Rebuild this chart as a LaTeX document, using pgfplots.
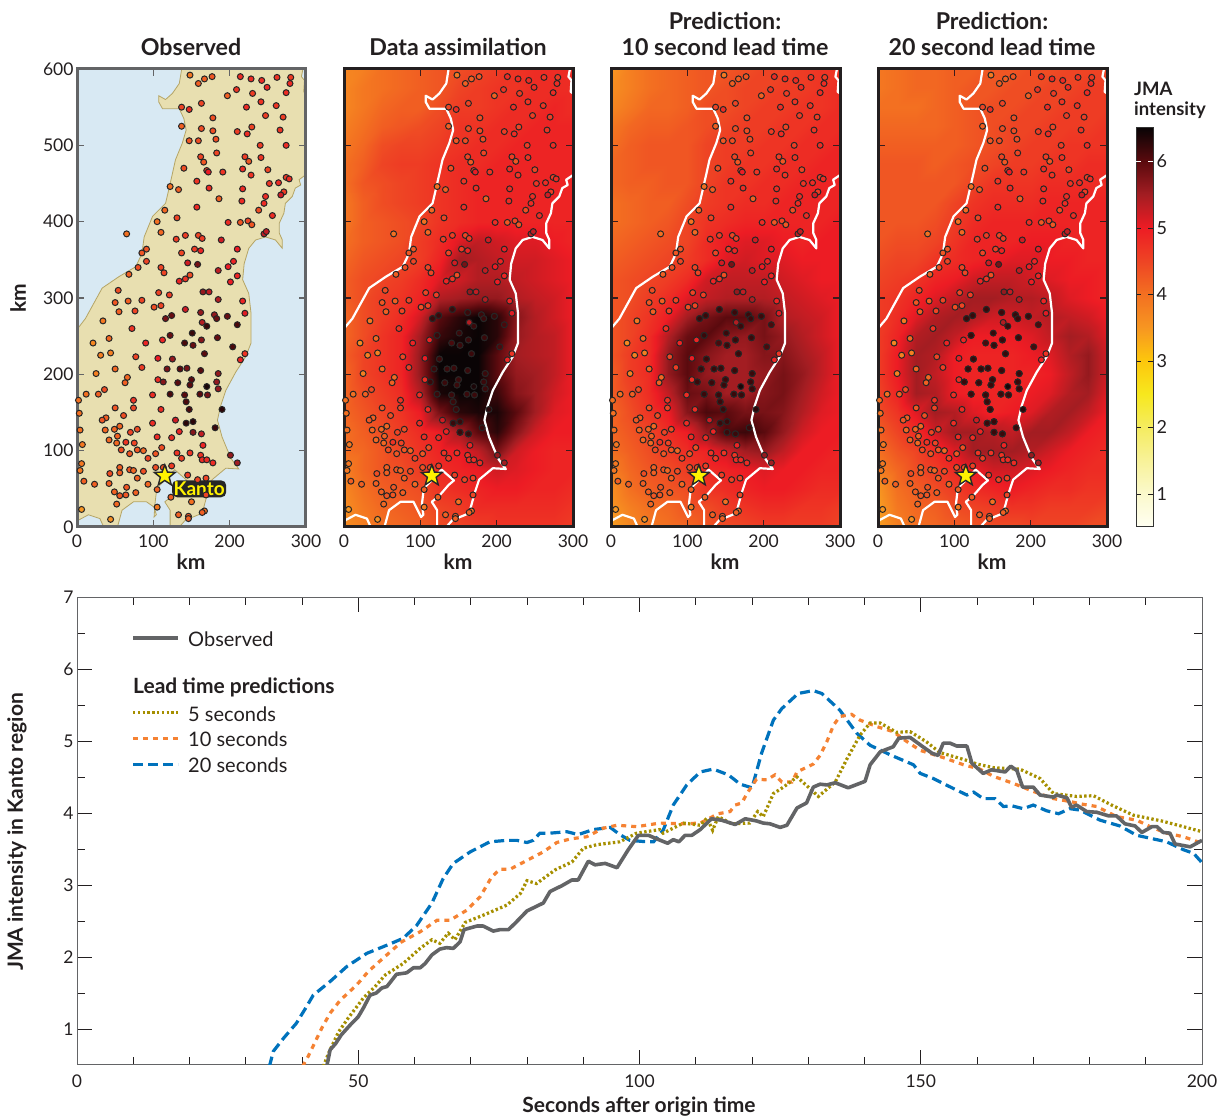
\documentclass[border=0pt]{standalone}
\usepackage{fontspec}
\usepackage{pgfplots}
\usepackage{pgfplotstable}
\pgfplotsset{compat=1.18}
\setmainfont{Lato}
\definecolor{ink}{HTML}{231F20}
\definecolor{frameg}{HTML}{636466}
\definecolor{sea}{HTML}{D8E9F3}
\definecolor{land}{HTML}{E8DFB0}
\definecolor{coastc}{HTML}{B5A566}
\definecolor{obsc}{HTML}{636466}
\definecolor{olivec}{HTML}{A68F00}
\definecolor{orangec}{HTML}{F58233}
\definecolor{bluec}{HTML}{0072BC}
\pgfplotsset{colormap={jma}{rgb255=(255,255,242) rgb255=(251,249,204) rgb255=(248,242,153) rgb255=(245,236,96) rgb255=(247,232,30) rgb255=(253,199,12) rgb255=(247,150,33) rgb255=(243,112,33) rgb255=(238,68,36) rgb255=(237,28,36) rgb255=(163,29,34) rgb255=(90,10,14) rgb255=(10,4,5)}}
\pgfdeclareplotmark{fstar}{%
 \pgfpathmoveto{\pgfqpointpolar{90}{\pgfplotmarksize}}%
 \pgfpathlineto{\pgfqpointpolar{126}{0.42\pgfplotmarksize}}%
 \pgfpathlineto{\pgfqpointpolar{162}{\pgfplotmarksize}}%
 \pgfpathlineto{\pgfqpointpolar{198}{0.42\pgfplotmarksize}}%
 \pgfpathlineto{\pgfqpointpolar{234}{\pgfplotmarksize}}%
 \pgfpathlineto{\pgfqpointpolar{270}{0.42\pgfplotmarksize}}%
 \pgfpathlineto{\pgfqpointpolar{306}{\pgfplotmarksize}}%
 \pgfpathlineto{\pgfqpointpolar{342}{0.42\pgfplotmarksize}}%
 \pgfpathlineto{\pgfqpointpolar{18}{\pgfplotmarksize}}%
 \pgfpathlineto{\pgfqpointpolar{54}{0.42\pgfplotmarksize}}%
 \pgfpathclose\pgfusepathqfillstroke}
% ---- grid reader: one row of intensities per y, x = 0,25,...,300
\newtoks\gridtoks \newcount\gxc \newcount\gyc
\def\stopmark{;}
\def\scanval#1 {\def\tmp{#1}\ifx\tmp\stopmark\else
 \edef\next{\the\gridtoks (\the\gxc,\the\gyc) [#1] }\gridtoks\expandafter{\next}\advance\gxc by 25 \expandafter\scanval\fi}
\def\gridrow#1#2{\gxc=0 \gyc=#1 \scanval#2 ; }
\gridtoks={}
\gridrow{600}{3.7 3.8 4.0 4.1 4.2 4.3 4.4 4.5 4.6 4.7 4.8 4.8 4.8}
\gridrow{575}{3.7 3.9 4.0 4.1 4.2 4.3 4.5 4.6 4.7 4.7 4.8 4.8 4.8}
\gridrow{550}{3.7 3.9 4.1 4.2 4.2 4.4 4.6 4.6 4.7 4.8 4.8 4.9 4.8}
\gridrow{525}{3.8 4.0 4.2 4.3 4.4 4.5 4.7 4.7 4.8 4.8 4.9 4.9 4.9}
\gridrow{500}{3.9 4.1 4.4 4.5 4.5 4.6 4.7 4.8 4.8 4.9 4.9 4.9 4.9}
\gridrow{475}{4.0 4.2 4.5 4.6 4.6 4.7 4.8 4.8 4.9 4.9 4.9 4.9 4.9}
\gridrow{450}{4.0 4.3 4.4 4.5 4.6 4.7 4.8 4.9 4.9 4.9 4.9 4.9 4.9}
\gridrow{425}{3.9 4.2 4.4 4.5 4.6 4.7 4.8 4.9 4.9 4.9 4.9 4.9 4.9}
\gridrow{400}{3.9 4.2 4.3 4.4 4.5 4.7 4.8 4.9 4.9 4.9 4.9 4.9 4.9}
\gridrow{375}{4.0 4.2 4.3 4.4 4.6 4.8 5.1 5.3 5.2 5.1 5.1 5.0 4.9}
\gridrow{350}{4.1 4.3 4.4 4.5 4.6 4.9 5.5 5.4 5.3 5.2 5.2 5.1 5.0}
\gridrow{325}{4.2 4.4 4.5 4.6 4.8 5.1 5.2 5.4 5.4 5.3 5.2 5.1 5.0}
\gridrow{300}{4.2 4.4 4.6 4.7 4.9 5.4 5.5 5.6 5.6 5.4 5.3 5.2 5.0}
\gridrow{275}{4.1 4.4 4.6 4.8 5.2 6.0 6.3 6.5 6.3 5.7 5.4 5.2 5.0}
\gridrow{250}{4.1 4.4 4.7 4.9 5.5 6.2 6.4 6.5 6.3 5.6 5.4 5.3 5.0}
\gridrow{225}{4.2 4.5 4.7 4.9 5.6 6.5 6.5 6.5 6.0 5.5 5.4 5.3 5.0}
\gridrow{200}{4.1 4.5 4.7 4.9 5.6 6.5 6.5 6.5 6.0 5.6 5.5 5.3 5.0}
\gridrow{175}{4.1 4.4 4.6 4.8 5.4 6.4 6.5 6.5 6.2 5.7 5.5 5.2 5.0}
\gridrow{150}{4.1 4.3 4.5 4.7 5.0 5.8 6.3 6.4 6.4 6.0 5.5 5.1 5.0}
\gridrow{125}{4.0 4.2 4.4 4.6 4.8 5.0 5.5 6.0 6.3 5.7 5.2 5.0 5.0}
\gridrow{100}{4.0 4.1 4.3 4.5 4.7 4.9 5.0 5.3 5.8 5.2 5.0 4.9 4.9}
\gridrow{75}{3.8 4.1 4.3 4.4 4.6 4.8 4.9 5.0 5.2 5.1 5.0 4.9 4.9}
\gridrow{50}{3.7 4.0 4.2 4.3 4.4 4.7 4.8 4.9 5.0 5.0 4.9 4.9 4.8}
\gridrow{25}{3.6 3.9 4.1 4.2 4.3 4.5 4.6 4.8 4.8 4.8 4.8 4.8 4.7}
\gridrow{0}{3.6 3.8 4.0 4.1 4.2 4.4 4.5 4.6 4.7 4.7 4.7 4.7 4.6}
\edef\gridA{\the\gridtoks}
\gridtoks={}
\gridrow{600}{3.5 3.8 4.0 4.1 4.2 4.3 4.3 4.4 4.5 4.5 4.6 4.7 4.7}
\gridrow{575}{3.6 3.8 4.0 4.1 4.2 4.3 4.4 4.5 4.5 4.6 4.6 4.7 4.8}
\gridrow{550}{3.7 3.9 4.1 4.1 4.2 4.4 4.4 4.5 4.6 4.6 4.7 4.7 4.8}
\gridrow{525}{3.9 4.1 4.2 4.2 4.3 4.4 4.5 4.6 4.6 4.7 4.7 4.8 4.8}
\gridrow{500}{4.0 4.2 4.3 4.3 4.3 4.5 4.6 4.6 4.7 4.7 4.8 4.8 4.9}
\gridrow{475}{4.1 4.2 4.3 4.3 4.3 4.5 4.6 4.7 4.7 4.8 4.8 4.9 4.9}
\gridrow{450}{4.1 4.2 4.2 4.3 4.3 4.5 4.7 4.7 4.8 4.8 4.9 4.9 4.9}
\gridrow{425}{4.0 4.1 4.2 4.2 4.4 4.6 4.7 4.8 4.8 4.9 4.9 4.9 4.9}
\gridrow{400}{4.0 4.1 4.2 4.3 4.5 4.7 4.8 4.9 4.9 4.9 4.9 4.9 5.0}
\gridrow{375}{4.1 4.2 4.3 4.4 4.5 4.8 5.0 5.1 5.1 5.0 4.9 5.0 5.0}
\gridrow{350}{4.2 4.3 4.4 4.5 4.6 4.8 5.1 5.2 5.1 5.1 5.0 5.0 5.0}
\gridrow{325}{4.3 4.4 4.5 4.6 4.8 5.2 5.3 5.3 5.3 5.2 5.1 5.0 5.0}
\gridrow{300}{4.3 4.4 4.6 4.8 5.1 5.3 5.4 5.4 5.4 5.3 5.2 5.1 5.0}
\gridrow{275}{4.3 4.5 4.7 5.0 5.5 5.8 6.0 6.0 5.8 5.4 5.3 5.2 5.0}
\gridrow{250}{4.3 4.5 4.8 5.4 5.9 6.0 5.7 5.6 5.8 5.6 5.4 5.2 5.0}
\gridrow{225}{4.3 4.6 4.8 5.6 6.0 5.7 5.5 5.5 5.7 5.7 5.5 5.3 5.0}
\gridrow{200}{4.2 4.6 4.8 5.6 6.0 5.6 5.5 5.5 5.6 5.8 5.6 5.3 5.0}
\gridrow{175}{4.2 4.5 4.8 5.3 5.9 5.8 5.5 5.5 5.7 5.8 5.5 5.2 5.0}
\gridrow{150}{4.1 4.4 4.7 5.0 5.7 6.1 6.0 5.8 5.8 5.7 5.4 5.1 5.0}
\gridrow{125}{4.1 4.3 4.5 4.8 5.0 5.6 6.1 6.2 6.0 5.6 5.2 5.0 5.0}
\gridrow{100}{4.0 4.2 4.4 4.6 4.8 4.9 5.2 5.5 5.6 5.3 5.0 5.0 4.9}
\gridrow{75}{3.8 4.1 4.3 4.4 4.6 4.8 4.9 5.0 5.1 5.0 5.0 4.9 4.9}
\gridrow{50}{3.6 4.0 4.2 4.3 4.4 4.7 4.8 4.9 5.0 5.0 4.9 4.8 4.8}
\gridrow{25}{3.5 3.8 4.0 4.1 4.3 4.4 4.6 4.7 4.8 4.8 4.7 4.7 4.6}
\gridrow{0}{3.4 3.7 3.9 4.0 4.1 4.3 4.4 4.5 4.6 4.6 4.6 4.6 4.5}
\edef\gridB{\the\gridtoks}
\gridtoks={}
\gridrow{600}{3.9 4.0 4.1 4.1 4.2 4.2 4.3 4.3 4.4 4.4 4.5 4.5 4.5}
\gridrow{575}{3.9 4.0 4.1 4.1 4.2 4.3 4.3 4.4 4.4 4.5 4.5 4.6 4.6}
\gridrow{550}{4.0 4.0 4.0 4.1 4.2 4.3 4.4 4.4 4.5 4.5 4.6 4.6 4.6}
\gridrow{525}{4.1 4.1 4.1 4.1 4.2 4.3 4.4 4.5 4.5 4.6 4.6 4.6 4.7}
\gridrow{500}{4.2 4.2 4.2 4.2 4.2 4.3 4.4 4.5 4.6 4.6 4.7 4.7 4.7}
\gridrow{475}{4.3 4.3 4.3 4.2 4.3 4.4 4.5 4.6 4.6 4.7 4.7 4.8 4.8}
\gridrow{450}{4.3 4.3 4.3 4.3 4.3 4.5 4.7 4.7 4.7 4.8 4.8 4.8 4.8}
\gridrow{425}{4.3 4.3 4.3 4.3 4.5 4.7 4.8 4.8 4.8 4.9 4.9 4.9 4.9}
\gridrow{400}{4.3 4.3 4.3 4.4 4.6 4.8 4.9 4.9 4.9 4.9 4.9 4.9 4.9}
\gridrow{375}{4.3 4.4 4.4 4.5 4.7 4.9 4.9 4.9 5.0 5.0 4.9 4.9 4.9}
\gridrow{350}{4.4 4.5 4.5 4.7 4.8 4.9 5.0 5.1 5.1 5.0 5.0 4.9 4.9}
\gridrow{325}{4.5 4.6 4.7 4.9 5.0 5.2 5.3 5.3 5.2 5.1 5.0 5.0 4.9}
\gridrow{300}{4.6 4.7 4.9 5.1 5.3 5.5 5.5 5.4 5.4 5.3 5.1 5.0 4.9}
\gridrow{275}{4.6 4.8 5.1 5.4 5.5 5.4 5.2 5.2 5.3 5.4 5.3 5.2 5.0}
\gridrow{250}{4.6 4.9 5.4 5.5 5.3 5.0 5.0 5.0 5.1 5.3 5.5 5.4 5.1}
\gridrow{225}{4.6 5.0 5.5 5.4 5.0 4.9 4.9 4.9 5.0 5.1 5.4 5.6 5.2}
\gridrow{200}{4.6 5.0 5.5 5.3 5.0 4.9 4.9 4.9 4.9 5.0 5.3 5.6 5.2}
\gridrow{175}{4.5 4.9 5.5 5.4 5.0 4.9 4.9 4.9 5.0 5.1 5.4 5.5 5.1}
\gridrow{150}{4.4 4.7 5.1 5.5 5.4 5.1 4.9 5.0 5.1 5.4 5.5 5.3 5.0}
\gridrow{125}{4.2 4.5 4.8 5.2 5.5 5.5 5.4 5.3 5.5 5.5 5.3 5.0 4.9}
\gridrow{100}{4.0 4.3 4.5 4.8 5.1 5.5 5.5 5.5 5.4 5.2 5.0 4.9 4.8}
\gridrow{75}{3.8 4.1 4.4 4.6 4.8 5.0 5.2 5.2 5.1 5.0 4.9 4.8 4.8}
\gridrow{50}{3.5 4.0 4.2 4.4 4.6 4.8 4.9 5.0 4.9 4.8 4.8 4.7 4.7}
\gridrow{25}{3.4 3.9 4.1 4.2 4.4 4.5 4.6 4.7 4.7 4.6 4.6 4.6 4.5}
\gridrow{0}{3.4 3.8 4.0 4.1 4.2 4.3 4.4 4.4 4.5 4.5 4.5 4.4 4.4}
\edef\gridC{\the\gridtoks}
\def\plotgrid#1{\edef\tmp{\noexpand\addplot[surf,shader=interp,mesh/cols=13,point meta=explicit,forget plot] coordinates {#1};}\tmp}
% ---- stations
\pgfplotstableread{
x y v
148 592 3.9
159 581 4.2
167 587 4.2
177 590 4.3
214 590 4.8
228 587 4.8
242 585 4.8
262 589 4.7
280 589 4.6
279 581 4.8
249 576 4.8
274 569 4.8
230 568 4.6
209 573 4.7
197 565 4.2
241 557 4.7
163 555 4.5
261 552 4.7
222 550 4.8
137 550 4.5
147 547 4.8
178 536 4.4
247 539 4.6
270 537 4.6
229 524 4.5
137 525 4.2
163 522 4.4
178 519 4.4
266 520 4.7
210 518 4.6
223 515 4.8
182 508 4.4
147 506 4.3
159 506 4.4
240 500 4.6
274 500 4.8
183 490 4.5
162 485 4.5
166 478 4.3
220 485 4.6
225 479 4.3
241 484 4.7
140 470 4.4
170 467 4.6
172 465 5.0
191 465 4.7
217 469 4.8
250 468 4.5
228 461 4.7
274 458 4.6
278 456 4.8
157 453 4.7
122 446 4.0
133 442 4.2
252 450 4.7
264 451 4.8
173 444 4.8
217 443 4.8
271 439 4.6
267 435 5.2
247 433 4.8
186 430 4.2
216 427 4.8
245 424 4.8
157 419 4.8
115 415 4.1
238 415 4.4
256 408 4.8
131 405 4.5
105 400 4.0
198 399 4.8
214 399 4.3
224 401 4.5
229 396 4.3
65 384 4.0
110 386 4.1
245 384 5.3
248 387 5.3
142 382 4.6
159 382 4.5
164 378 4.6
130 377 4.6
189 376 5.2
91 364 4.3
85 359 4.3
154 364 4.6
162 362 4.9
210 364 5.0
137 359 4.5
91 348 4.5
145 346 5.2
158 344 5.8
205 348 4.9
198 341 5.0
80 340 4.4
110 340 4.5
185 336 5.3
68 331 4.2
114 333 4.5
148 330 4.4
210 329 4.9
134 322 4.9
142 325 4.7
201 321 5.0
54 310 4.4
107 307 4.5
121 304 4.6
165 308 5.6
173 308 5.3
185 298 5.4
50 294 4.3
67 296 4.2
85 297 4.5
217 296 4.9
101 288 4.4
110 290 4.5
55 282 4.2
76 283 4.5
142 285 5.2
162 281 5.6
180 278 5.6
183 273 5.9
197 276 5.9
220 280 5.1
116 273 5.8
124 277 5.9
34 270 3.9
164 268 5.4
170 263 6.2
210 265 6.1
72 260 4.7
151 254 6.2
122 251 5.9
42 247 4.1
112 245 4.9
163 245 5.7
184 248 5.9
21 241 3.7
90 241 4.9
141 241 6.1
152 238 5.9
204 236 6.1
31 225 3.8
44 228 3.8
220 227 4.7
214 219 4.9
77 223 4.5
106 221 5.0
125 220 5.6
167 227 6.0
50 207 4.1
85 209 4.6
118 207 5.8
135 207 6.0
144 208 5.8
162 205 6.0
25 201 3.8
185 201 5.6
66 196 4.1
106 193 4.8
113 190 5.7
132 189 6.0
150 193 6.0
183 190 5.6
63 189 4.2
148 186 6.0
170 184 6.4
185 181 5.6
122 174 6.1
141 173 6.0
161 174 6.0
171 173 5.8
99 173 4.8
12 174 4.0
28 174 4.2
36 180 4.4
2 166 4.0
74 166 4.7
143 164 6.1
147 154 6.1
74 156 4.5
50 156 4.3
110 154 4.8
190 154 6.3
3 149 4.0
61 146 4.4
38 143 4.2
33 140 4.3
129 140 5.2
99 136 4.8
143 136 6.3
152 138 6.3
4 127 4.0
37 127 4.1
49 128 4.1
56 132 4.1
79 128 4.4
70 124 4.5
134 125 4.9
152 124 5.7
163 122 5.3
181 130 6.2
53 119 4.2
105 118 4.8
124 117 4.8
42 114 4.1
7 108 3.9
52 110 4.1
64 111 4.7
75 110 4.5
165 107 4.9
111 104 4.4
58 101 4.4
79 101 4.3
87 100 4.1
69 96 4.3
103 96 4.3
131 97 4.7
148 97 4.7
162 94 4.7
201 94 5.6
93 90 4.5
137 90 4.6
164 88 4.8
170 88 4.8
178 84 4.8
210 84 5.5
6 83 3.9
4 74 3.9
56 78 4.2
103 78 4.4
124 80 4.6
113 78 4.4
56 71 4.2
43 70 4.4
69 75 4.3
74 74 4.1
87 73 4.4
145 68 4.6
79 64 4.2
158 62 4.5
169 64 4.5
9 60 4.2
23 56 4.2
42 57 4.2
93 56 4.1
65 52 4.3
49 46 4.2
105 49 4.2
56 41 4.3
64 42 4.3
77 45 4.2
123 39 4.2
150 33 4.0
169 42 4.5
52 30 4.1
105 26 3.9
6 23 3.5
133 16 4.2
167 21 4.0
164 19 4.2
146 14 4.3
146 11 4.2
44 10 3.6
}\stations
% stations whose estimate is darker in the three modelled panels
\pgfplotstableread{
x y v
142 285 6.2
162 281 6.2
180 278 6.2
183 273 6.2
197 276 6.2
116 273 6.2
124 277 6.2
122 251 6.2
163 245 6.2
184 248 6.2
152 238 6.2
125 220 6.2
167 227 6.2
118 207 6.2
135 207 6.2
144 208 6.2
162 205 6.2
185 201 6.2
113 190 6.2
132 189 6.2
150 193 6.2
183 190 6.2
148 186 6.2
185 181 6.2
122 174 6.2
141 173 6.2
161 174 6.2
171 173 6.2
143 164 6.2
147 154 6.2
143 136 6.2
152 138 6.2
152 124 6.2
163 122 6.2
}\darker
% ---- land and coast
\pgfplotstableread{
x y
137 600
137 599
134 581
125 568
116 560
107 565
107 557
112 548
134 548
140 535
143 520
138 503
129 481
125 463
120 441
116 424
99 407
88 380
85 358
77 341
55 328
33 313
22 293
11 273
1 260
0 260
0 5
2 9
15 16
30 11
35 0
53 0
59 22
74 33
91 33
101 26
104 16
101 13
102 29
104 46
107 53
128 75
144 61
137 55
124 40
115 33
122 22
122 0
134 0
142 9
164 18
171 44
177 62
195 77
212 76
203 88
197 101
190 118
184 140
188 158
195 179
208 203
221 223
228 241
228 280
225 306
217 324
219 345
225 365
234 376
247 380
260 376
269 365
269 376
265 385
265 398
271 411
273 424
282 433
286 444
293 448
291 455
299 461
300 461
300 568
297 570
298 585
294 590
296 600
}\landtab
\pgfplotstableread{
x y
137 600
134 581
125 568
116 560
107 565
107 557
112 548
134 548
140 535
143 520
138 503
129 481
125 463
120 441
116 424
99 407
88 380
85 358
77 341
55 328
33 313
22 293
11 273
0 260
nan nan
300 461
291 455
293 448
286 444
282 433
273 424
271 411
265 398
265 385
269 376
269 365
260 376
247 380
234 376
225 365
219 345
217 324
225 306
228 280
228 241
221 223
208 203
195 179
188 158
184 140
190 118
197 101
203 88
212 76
195 77
177 62
171 44
164 18
142 9
134 0
nan nan
296 600
294 590
298 585
297 570
300 568
nan nan
107 53
128 75
144 61
137 55
124 40
115 33
122 22
122 0
nan nan
107 53
104 46
102 29
104 16
101 13
91 33
74 33
59 22
53 0
nan nan
0 5
2 9
15 16
30 11
35 0
}\coasttab
% ---- time series
\pgfplotstableread{
x y
44.4 0.48
45 0.71
46 0.80
47 0.92
48.5 1.05
50 1.17
50.9 1.29
52.1 1.47
53.2 1.50
54.2 1.57
55.1 1.59
56.8 1.76
58.6 1.78
59.8 1.85
61 1.85
61.9 1.91
63.1 2.03
64.5 2.11
65.7 2.13
66.9 2.12
68.1 2.21
68.8 2.38
71.1 2.43
72.2 2.43
74 2.36
75.2 2.38
76.7 2.38
77.9 2.47
80 2.64
82.9 2.75
84.1 2.91
86.2 2.99
88 3.07
89.1 3.07
90.9 3.33
92.1 3.28
93.9 3.30
96 3.24
98 3.49
99.8 3.69
101.6 3.69
103.4 3.63
105 3.58
106 3.63
107 3.60
108.1 3.69
109.3 3.69
110.8 3.77
112.8 3.92
114.6 3.90
117 3.84
118.8 3.92
120.8 3.89
122 3.86
123.2 3.85
125 3.80
126.2 3.83
128 4.07
129.7 4.14
130.9 4.36
132.1 4.40
133.3 4.39
134.8 4.42
137.1 4.35
140.1 4.44
141 4.67
142.8 4.85
145.1 4.92
146.1 5.04
148.1 5.05
150.2 4.93
152 4.83
153.1 4.80
154 4.97
155.2 4.97
156.4 4.93
158.2 4.93
159.1 4.69
161.1 4.55
162.6 4.60
165 4.57
166 4.65
167.1 4.59
168.1 4.36
170 4.36
171.2 4.25
173.6 4.22
174.2 4.25
176 4.21
176.8 4.08
177.7 4.11
179.5 4.02
181.3 4.01
183.4 3.96
184.8 3.96
186.3 3.85
188.1 3.82
189.3 3.73
191.1 3.81
192 3.81
193.1 3.73
194.3 3.72
195.2 3.57
197.9 3.53
200 3.62
}\obstab
\pgfplotstableread{
x y
34.2 0.48
34.9 0.69
36.7 0.87
39 1.08
40.8 1.31
42 1.47
45 1.66
48 1.87
51.5 2.05
55.6 2.18
58 2.26
60.4 2.44
63.1 2.75
65.1 3.09
66.9 3.30
69.9 3.46
73.4 3.60
76.4 3.62
78.2 3.62
80 3.59
81.1 3.62
82.3 3.72
84.1 3.72
87.1 3.74
89.1 3.70
91.8 3.77
94.8 3.80
96.5 3.70
98.3 3.62
101.3 3.60
102.5 3.60
104.2 3.76
106 4.11
108.4 4.39
110.8 4.57
113.1 4.61
115.8 4.53
117.9 4.40
120 4.35
121.7 4.83
123.8 5.29
125.3 5.45
128.2 5.66
130.9 5.70
132.4 5.66
135.6 5.43
138.6 5.11
141 4.94
144.8 4.80
148.7 4.67
149.9 4.55
152.2 4.48
155.8 4.34
158.2 4.25
159.4 4.29
161.1 4.20
163.2 4.20
164.7 4.09
166.2 4.10
168.2 4.06
170 4.11
172.4 4.03
174.5 3.99
176.5 4.06
178.3 4.04
181.9 3.90
185.4 3.82
188.4 3.69
193.7 3.60
196.7 3.49
198.5 3.44
200 3.31
}\bluetab
\pgfplotstableread{
x y
40.1 0.48
41.1 0.62
43.5 1.01
45 1.22
46.8 1.40
49.7 1.61
51.8 1.80
54.8 2.01
57.7 2.21
61 2.35
64 2.51
66.3 2.51
69.3 2.65
71.7 2.84
73.7 3.11
75.2 3.22
77 3.22
80.2 3.35
82.9 3.46
85.3 3.59
87.7 3.64
90.6 3.67
93.6 3.79
96 3.83
99.5 3.81
103.6 3.86
107.8 3.85
110.8 3.86
112.5 3.93
114 3.99
116.1 4.02
117 4.11
118.2 4.14
119.1 4.27
120.8 4.47
122.6 4.46
124.1 4.53
125.3 4.43
127.1 4.43
128 4.57
130.9 4.68
132.1 4.80
133.3 4.99
134.5 5.22
135.6 5.34
137.7 5.37
139.2 5.29
142.2 5.20
145.1 5.13
147.2 5.01
149.9 4.87
154 4.77
157.6 4.67
160.5 4.61
162.9 4.51
166.5 4.41
170 4.30
173.6 4.20
176.5 4.16
178.9 4.12
181.3 4.09
184.8 3.95
188.4 3.90
190.8 3.81
193.7 3.72
196.7 3.67
200 3.58
}\orangetab
\pgfplotstableread{
x y
43.8 0.48
44.7 0.66
46.5 0.96
48.2 1.15
50.9 1.43
53 1.59
54.8 1.75
58 1.91
61 2.12
63.1 2.24
64.5 2.19
66 2.33
67.2 2.24
69 2.48
72.2 2.58
76.4 2.72
78.8 2.88
80 3.06
81.7 3.02
85 3.21
88 3.32
90 3.51
92.4 3.56
96.5 3.60
99.5 3.72
103.6 3.77
104.2 3.72
107.8 3.86
110.8 3.83
112 3.93
113 3.76
114 3.95
116.4 3.85
119.6 3.86
121 4.02
122 3.95
123.8 4.27
125.6 4.36
128 4.50
130.3 4.34
131.8 4.23
134.8 4.43
136.8 4.74
139.2 5.08
141 5.25
142.8 5.25
145.7 5.12
148.1 5.13
151 4.99
153.4 4.84
158.2 4.73
160 4.68
162.9 4.63
167.6 4.61
171.2 4.48
173.6 4.27
177.7 4.23
180.7 4.24
184.2 4.10
187.8 3.97
192.8 3.89
196.7 3.81
200 3.74
}\olivetab
\pgfplotsset{
 mapaxis/.style={scale only axis,width=229pt,height=458pt,xmin=0,xmax=300,ymin=0,ymax=600,
  anchor=south west,xtick={0,100,200,300},ytick={0,100,...,600},tick align=inside,
  major tick length=7pt,axis on top,colormap name=jma,point meta min=0.5,point meta max=6.5,
  tick label style={font=\fontsize{17.5}{17.5}\selectfont,text=ink},
  /pgf/number format/assume math mode=true,
  every tick/.style={line width=1.5pt},
  axis line style={line width=3pt,ink},tick style={ink!90!red},
  xticklabel style={yshift=-4pt}},
 stn/.style={scatter,only marks,mark=*,mark size=3pt,scatter src=explicit,
  scatter/use mapped color={draw=black!85,fill=mapped color},mark options={line width=1pt},forget plot},
 coastw/.style={white,line width=2.2pt,line join=round,unbounded coords=jump,no marks,forget plot},
 starp/.style={only marks,mark=fstar,mark size=11pt,mark options={fill=yellow,draw=black!85,line width=1.4pt},forget plot}
}
\begin{document}
\begin{tikzpicture}[x=1pt,y=1pt]
\path[use as bounding box] (0,0) rectangle (1218,1116);
% Map 1
\begin{axis}[mapaxis,at={(77pt,589pt)},axis background/.style={fill=sea},
 axis line style={line width=3pt,frameg},tick style={frameg}]
\addplot[fill=land,draw=coastc,line width=0.8pt,forget plot] table[x=x,y=y]{\landtab} -- cycle;
\addplot[stn] table[x=x,y=y,meta=v]{\stations};
\addplot[starp] coordinates {(115,67)};
\node[fill=black!85,rounded corners=5pt,inner sep=1.5pt,text=yellow,font=\bfseries\fontsize{19}{19}\selectfont] at (axis cs:160,50) {Kanto};
\end{axis}
% Map 2
\begin{axis}[mapaxis,at={(344pt,589pt)},yticklabels={}]
\plotgrid{\gridA}
\addplot[coastw] table[x=x,y=y]{\coasttab};
\addplot[stn] table[x=x,y=y,meta=v]{\stations};
\addplot[stn] table[x=x,y=y,meta=v]{\darker};
\addplot[starp] coordinates {(115,67)};
\end{axis}
% Map 3
\begin{axis}[mapaxis,at={(611pt,589pt)},yticklabels={}]
\plotgrid{\gridB}
\addplot[coastw] table[x=x,y=y]{\coasttab};
\addplot[stn] table[x=x,y=y,meta=v]{\stations};
\addplot[stn] table[x=x,y=y,meta=v]{\darker};
\addplot[starp] coordinates {(115,67)};
\end{axis}
% Map 4
\begin{axis}[mapaxis,at={(878pt,589pt)},yticklabels={}]
\plotgrid{\gridC}
\addplot[coastw] table[x=x,y=y]{\coasttab};
\addplot[stn] table[x=x,y=y,meta=v]{\stations};
\addplot[stn] table[x=x,y=y,meta=v]{\darker};
\addplot[starp] coordinates {(115,67)};
\end{axis}
% colour bar
\begin{axis}[scale only axis,width=17pt,height=399pt,at={(1136pt,589pt)},anchor=south west,
 xmin=0,xmax=1,ymin=0.5,ymax=6.5,xtick=\empty,ytick={1,2,3,4,5},extra y ticks={6},
 extra y tick style={tick style={white}},yticklabel pos=right,tick align=inside,major tick length=5pt,
 colormap name=jma,point meta min=0.5,point meta max=6.5,axis on top,
 tick label style={font=\fontsize{18}{18}\selectfont,text=ink},
 /pgf/number format/assume math mode=true,
 axis line style={line width=1pt,black!80},tick style={ink}]
\addplot[surf,shader=interp,mesh/cols=2,point meta=y,forget plot] coordinates {
(0,0.5) (1,0.5) (0,6.5) (1,6.5)};
\end{axis}
% Time series
\begin{axis}[scale only axis,width=1125pt,height=468pt,at={(77pt,51pt)},anchor=south west,
 xmin=0,xmax=200,ymin=0.5,ymax=7,xtick={0,50,100,150,200},ytick={1,...,7},
 minor x tick num=4,minor y tick num=1,tick align=inside,major tick length=15pt,minor tick length=8pt,
 tick label style={font=\fontsize{17.5}{17.5}\selectfont,text=ink},
 xticklabel style={yshift=-6pt},
 /pgf/number format/assume math mode=true,
 axis line style={line width=1pt,frameg},tick style={line width=0.8pt,ink}]
\addplot[bluec,line width=3.2pt,dash pattern=on 10pt off 5pt] table[x=x,y=y]{\bluetab};
\addplot[orangec,line width=3.2pt,dash pattern=on 5pt off 5pt] table[x=x,y=y]{\orangetab};
\addplot[olivec,line width=3.2pt,dash pattern=on 2.4pt off 2.4pt] table[x=x,y=y]{\olivetab};
\addplot[obsc,line width=3.6pt,line join=round] table[x=x,y=y]{\obstab};
\end{axis}
% Titles and labels
\tikzset{bt/.style={font=\bfseries\fontsize{23.2}{26}\selectfont,text=ink,align=center},
 bl/.style={font=\bfseries\fontsize{21}{21}\selectfont,text=ink},
 lt/.style={font=\fontsize{20}{20}\selectfont,text=ink,anchor=west}}
\node[bt] at (191,1069) {Observed};
\node[bt] at (458,1069) {Data assimilation};
\node[bt] at (725,1082) {Prediction:\\10 second lead time};
\node[bt] at (992,1082) {Prediction:\\20 second lead time};
\node[bl] at (191,554) {km};
\node[bl] at (458,554) {km};
\node[bl] at (725,554) {km};
\node[bl] at (992,554) {km};
\node[bl,rotate=90] at (18,818) {km};
\node[font=\bfseries\fontsize{18.5}{20}\selectfont,text=ink,align=left,anchor=north west,inner sep=0pt] at (1134,1034) {JMA\\intensity};
\node[bl,rotate=90] at (17,284) {JMA intensity in Kanto region};
\node[bl] at (639,9) {Seconds after origin time};
% Legend
\draw[obsc,line width=3.6pt] (133,478)--(178,478);
\node[lt] at (184.7,477) {Observed};
\node[font=\bfseries\fontsize{21}{21}\selectfont,text=ink,anchor=west,inner sep=0pt] at (133,429) {Lead time predictions};
\draw[olivec,line width=3pt,dash pattern=on 2.4pt off 2.4pt] (133,403)--(178,403);
\node[lt] at (184.7,402) {5 seconds};
\draw[orangec,line width=3pt,dash pattern=on 5pt off 5pt] (133,377)--(178,377);
\node[lt] at (184.7,377) {10 seconds};
\draw[bluec,line width=3pt,dash pattern=on 10pt off 5pt] (133,351)--(178,351);
\node[lt] at (184.7,351) {20 seconds};
\end{tikzpicture}
\end{document}
